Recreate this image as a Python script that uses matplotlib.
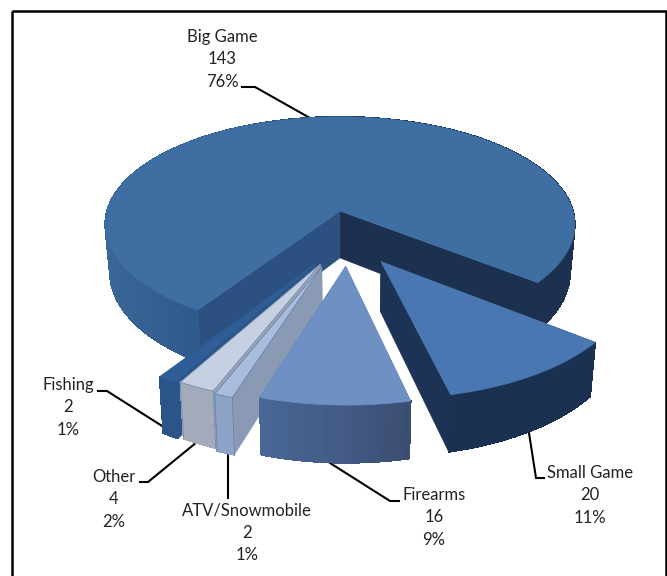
import numpy as np
import matplotlib
matplotlib.use("Agg")
import matplotlib.pyplot as plt
from matplotlib.colors import to_rgb
from matplotlib.patches import Polygon, Rectangle

# ---- data ----
categories = ["Big Game", "Small Game", "Firearms", "ATV/Snowmobile", "Other", "Fishing"]
counts = [143, 20, 16, 2, 4, 2]
percents = ["76%", "11%", "9%", "1%", "2%", "1%"]

# ---- styling / projection ----
explode_u = [0.0, 0.166, 0.023, -0.073, -0.08, -0.10]
explode_v = [0.0, -0.45, -0.49, -0.49, -0.472, -0.472]
top_colors = ["#3f6ea3", "#4877b1", "#6e90c3", "#a9bcdc", "#c5d0e2", "#2f5d95"]
cut_colors = ["#2c5080", "#1d3355", "#4a6a9a", "#8a9ab5", "#9aa5b8", "#2b5488"]
cut_right_colors = ["#1c3150", "#1d3355", "#4a6a9a", "#8a9ab5", "#9aa5b8", "#2b5488"]
edge_colors = [None, None, None, "#5f7ba5", "#6f84a5", None]
side_stops = [
    [(-1, "#3b6799"), (-0.55, "#305a8c"), (0.0, "#1c3150"), (1, "#1c3150")],
    [(-1, "#1b3152"), (1, "#1b3152")],
    [(-0.4, "#4a6a9a"), (0.0, "#435a85"), (0.3, "#38496b")],
    [(-1, "#8ca2c6"), (1, "#8ca2c6")],
    [(-1, "#a3abbb"), (1, "#a3abbb")],
    [(-1, "#2b5488"), (1, "#2b5488")],
]
draw_order = [0, 5, 4, 3, 2, 1]
label_x = [222, 590, 434, 247, 114, 68]
label_y = [37, 473, 495, 510, 477, 385]
line_gap = 22.5
leaders = [
    [(242, 87), (255, 87), (310, 118)],
    [(529, 433), (536, 478), (544, 478)],
    [(330, 463), (390, 501), (399, 501)],
    [(228, 449), (228, 498)],
    [(197, 442), (148, 482), (140, 482)],
    [(98, 391), (107, 391), (170, 431)],
]

CX, CY, A, B, P, DEPTH = 340, 211, 233, 106, 0.125, 47
START = -38.5


def project(u, v):
    s = 1 / (1 + P * v)
    return CX + A * u * s, CY - B * v * s, s


def lower(x, y, s):
    return x - 0.02 * (x - CX), y + DEPTH * s


def ramp(stops, t):
    xs = [a for a, _ in stops]
    cs = np.array([to_rgb(c) for _, c in stops])
    return tuple(np.interp(t, xs, cs[:, i]) for i in range(3))


fig = plt.figure(figsize=(6.67, 5.76), dpi=100)
ax = fig.add_axes([0, 0, 1, 1])
ax.set_xlim(0, 667)
ax.set_ylim(576, 0)
ax.axis("off")
ax.add_patch(Rectangle((12, 11), 654, 590, fill=False, ec="black", lw=1.8))

total = sum(counts)
sweeps = [c / total * 360 for c in counts]
ends = START - np.cumsum([0] + sweeps[1:])      # clockwise from the Big Game cut
slices = [(START, START + sweeps[0])]
for i in range(1, len(counts)):
    slices.append((ends[i], ends[i - 1]))

for i in draw_order:
    t0, t1 = slices[i]
    eu, ev = explode_u[i], explode_v[i]
    th = np.radians(np.linspace(t0, t1, max(int((t1 - t0) * 1.5), 12)))
    pts = [project(eu + np.cos(a), ev + np.sin(a)) for a in th]
    ax_, ay_, as_ = project(eu, ev)
    apex = (ax_, ay_)
    apex_low = lower(ax_, ay_, as_)
    first = pts[0]
    last = pts[-1]
    # radial faces
    for p, col in ((first, cut_right_colors[i]), (last, cut_colors[i])):
        ax.add_patch(Polygon([apex, p[:2], lower(*p), apex_low], closed=True,
                             fc=col, ec=col, lw=0.3))
    # outer wall: a soft base, then small shaded quads
    base = [p[:2] for p in pts] + [lower(*p) for p in pts[::-1]]
    ax.add_patch(Polygon(base, closed=True, fc=ramp(side_stops[i], 0.0), ec="none"))
    for j in range(len(pts) - 1):
        p, q = pts[j], pts[j + 1]
        col = ramp(side_stops[i], np.cos((th[j] + th[j + 1]) / 2))
        ax.add_patch(Polygon([p[:2], q[:2], lower(*q), lower(*p)], closed=True,
                             fc=col, ec=col, lw=0.5, antialiased=False))
    # top
    top_edge = edge_colors[i] or top_colors[i]
    ax.add_patch(Polygon([apex] + [p[:2] for p in pts], closed=True,
                         fc=top_colors[i], ec=top_edge, lw=0.5))
    if edge_colors[i]:
        for p in (first, last):
            lo = lower(*p)
            ax.plot([p[0], lo[0]], [p[1], lo[1]], color=top_edge, lw=0.5)

for i, name in enumerate(categories):
    xs, ys = zip(*leaders[i])
    ax.plot(xs, ys, color="black", lw=1.5, solid_joinstyle="miter", zorder=0.5)
    for k, s in enumerate([name, str(counts[i]), percents[i]]):
        ax.text(label_x[i], label_y[i] + k * line_gap, s, ha="center", va="center",
                fontsize=12, family="Lato", color="#222222")

fig.savefig("out.png", dpi=100)
